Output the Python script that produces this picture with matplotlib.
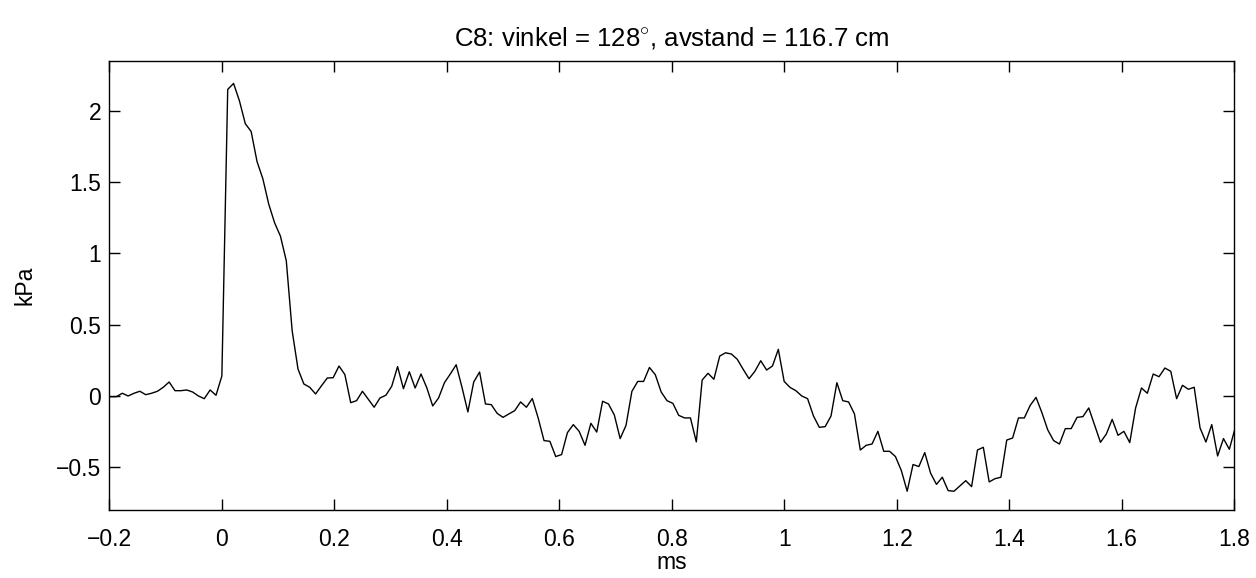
import matplotlib
matplotlib.use('Agg')
import matplotlib.pyplot as plt
import numpy as np

# trykk (kPa), samplet med 96 kHz, sample 20 i lista er t = 0
fs_khz = 96.0
trigger_idx = 20
kpa = [-0.005,
       -0.005, -0.005, 0.019, 0.000, 0.019, 0.033, 0.009, 0.019, 0.033, 0.061,
       0.098, 0.037, 0.037, 0.042, 0.028, 0.000, -0.019, 0.042, 0.005, 0.140,
       2.150, 2.192, 2.070, 1.910, 1.855, 1.645, 1.523, 1.346, 1.215, 1.121,
       0.948, 0.458, 0.189, 0.084, 0.061, 0.014, 0.071, 0.126, 0.128, 0.210,
       0.150, -0.047, -0.033, 0.033, -0.023, -0.079, -0.014, 0.005, 0.068, 0.206,
       0.051, 0.170, 0.056, 0.154, 0.056, -0.070, -0.014, 0.093, 0.154, 0.219,
       0.060, -0.112, 0.098, 0.168, -0.056, -0.061, -0.122, -0.150, -0.126, -0.103,
       -0.042, -0.079, -0.018, -0.154, -0.313, -0.318, -0.425, -0.411, -0.257, -0.201,
       -0.248, -0.346, -0.192, -0.253, -0.037, -0.056, -0.133, -0.299, -0.206, 0.032,
       0.102, 0.102, 0.200, 0.149, 0.028, -0.033, -0.052, -0.136, -0.154, -0.154,
       -0.322, 0.112, 0.159, 0.117, 0.280, 0.303, 0.294, 0.257, 0.187, 0.121,
       0.173, 0.247, 0.182, 0.210, 0.327, 0.102, 0.060, 0.037, 0.000, -0.019,
       -0.140, -0.220, -0.215, -0.140, 0.093, -0.033, -0.042, -0.126, -0.379, -0.346,
       -0.337, -0.248, -0.388, -0.388, -0.425, -0.523, -0.668, -0.481, -0.495, -0.397,
       -0.542, -0.620, -0.570, -0.664, -0.668, -0.631, -0.594, -0.636, -0.379, -0.360,
       -0.603, -0.580, -0.570, -0.309, -0.295, -0.154, -0.154, -0.066, -0.010, -0.117,
       -0.238, -0.313, -0.337, -0.229, -0.229, -0.150, -0.145, -0.084, -0.205, -0.325,
       -0.267, -0.164, -0.276, -0.248, -0.327, -0.084, 0.056, 0.019, 0.154, 0.135,
       0.196, 0.173, -0.019, 0.075, 0.047, 0.061, -0.224, -0.323, -0.201, -0.421,
       -0.299, -0.374, -0.224]
ms = (np.arange(len(kpa)) - trigger_idx) / fs_khz

xticks = [-0.2, 0, 0.2, 0.4, 0.6, 0.8, 1, 1.2, 1.4, 1.6, 1.8]
xticklabels = ['\u22120.2', '0', '0.2', '0.4', '0.6', '0.8', '1', '1.2', '1.4', '1.6', '1.8']
yticks = [-0.5, 0, 0.5, 1, 1.5, 2]
yticklabels = ['\u22120.5', '0', '0.5', '1', '1.5', '2']

plt.rcParams['font.family'] = ['Liberation Sans', 'DejaVu Sans']
plt.rcParams['mathtext.fontset'] = 'custom'
plt.rcParams['mathtext.rm'] = 'Liberation Sans'

fs = 16.5

fig = plt.figure(figsize=(12.56, 5.78), dpi=100)
ax = fig.add_axes([0.0871, 0.1176, 0.8954, 0.777])

ax.plot(ms, kpa, color='black', linewidth=1.0)

ax.set_xlim(-0.2, 1.8)
ax.set_ylim(-0.8, 2.35)
ax.set_xticks(xticks)
ax.set_xticklabels(xticklabels)
ax.set_yticks(yticks)
ax.set_yticklabels(yticklabels)
ax.tick_params(direction='in', length=8, width=1, top=True, right=True,
               labelsize=fs)
ax.tick_params(axis='x', pad=13)
ax.tick_params(axis='y', pad=6)
for s in ax.spines.values():
    s.set_linewidth(1)

ax.set_xlabel('ms', fontsize=fs, labelpad=0)
ax.set_ylabel('kPa', fontsize=fs, labelpad=14)
ax.set_title('C8: vinkel = 128$^{\\circ}$, avstand = 116.7 cm', fontsize=18.5, pad=11)

plt.savefig('out.png', dpi=100)
